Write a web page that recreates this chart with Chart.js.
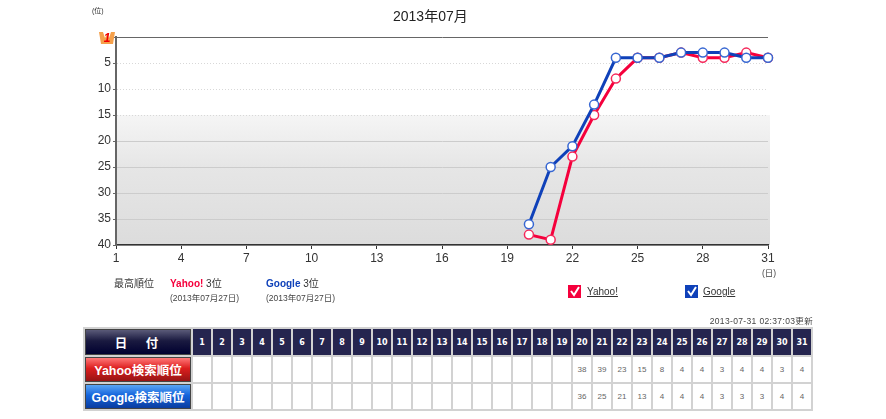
<!DOCTYPE html>
<html lang="ja">
<head>
    <meta charset="UTF-8">
    <title>2013年07月</title>
    <script src="https://cdn.jsdelivr.net/npm/chart.js"></script>
    <style>
        html, body {
            margin: 0;
            padding: 0;
            background: #ffffff;
            overflow: hidden;
        }

        body {
            width: 886px;
            height: 419px;
            position: relative;
            font-family: "Liberation Sans", "Noto Sans CJK JP", sans-serif;
            color: #333333;
        }

        canvas {
            position: absolute;
            left: 0;
            top: 0;
        }

        .label {
            position: absolute;
            white-space: nowrap;
            line-height: 1;
        }

        .small { font-size: 8.5px; color: #444444; }
        .yahoo { color: #f5003c; font-weight: bold; }
        .google { color: #0f41b9; font-weight: bold; }

        .check {
            position: absolute;
            width: 13px;
            height: 13px;
        }

        .legend-text {
            font-size: 10px;
            text-decoration: underline;
            color: #333333;
        }

        table {
            position: absolute;
            left: 83px;
            top: 327px;
            width: 730px;
            table-layout: fixed;
            border-collapse: separate;
            border-spacing: 2px;
            background: #d2d2d2;
        }

        td, th {
            padding: 0;
            text-align: center;
            overflow: hidden;
        }

        th.day {
            width: 18px;
            height: 26px;
            background: #25254f;
            color: #ffffff;
            font-size: 8px;
            font-family: "DejaVu Sans", sans-serif;
        }

        th.head {
            width: 106px;
            color: #ffffff;
            font-size: 12.5px;
            font-weight: bold;
            border: 1px solid #444444;
            box-sizing: border-box;
        }

        #dateHead { background: linear-gradient(#5a5a78, #1a1a40 45%, #000030); letter-spacing: 3px; }
        #yahooHead { background: linear-gradient(#f77, #dc1e1e 45%, #961414); }
        #googleHead { background: linear-gradient(#5aa5f5, #1464dc 45%, #0a3ca0); }

        td {
            height: 25px;
            background: #ffffff;
            color: #666666;
            font-size: 8px;
        }
    </style>
</head>
<body>
    <canvas id="rankChart" width="886" height="419"></canvas>

    <div class="label" style="left:92px;top:7px;font-size:7px;">(位)</div>
    <div class="label" style="left:393px;top:9px;font-size:14px;color:#222;">2013年07月</div>
    <svg style="position:absolute;left:99px;top:31px;" width="17" height="14">
        <polygon points="0,1 4,1 6,7 8,3 10,7 12,1 16,1 14,13 2,13" fill="#f5a04b"></polygon>
        <text x="8" y="11" text-anchor="middle" font-size="12" font-weight="bold" font-style="italic" fill="#f00000" font-family="Liberation Sans">1</text>
    </svg>
    <div class="label small" style="left:762px;top:269px;">(日)</div>

    <div class="label" style="left:114px;top:279px;font-size:10px;">最高順位</div>
    <div class="label" style="left:170px;top:279px;font-size:10px;"><span class="yahoo">Yahoo!</span> 3位</div>
    <div class="label small" style="left:170px;top:294px;">(2013年07月27日)</div>
    <div class="label" style="left:266px;top:279px;font-size:10px;"><span class="google">Google</span> 3位</div>
    <div class="label small" style="left:266px;top:294px;">(2013年07月27日)</div>

    <svg class="check" style="left:568px;top:285px;" viewBox="0 0 13 13">
        <rect width="13" height="13" fill="#f5003c"></rect>
        <path d="M3 6 L6 10 L11 2" stroke="#fff" stroke-width="2" fill="none"></path>
    </svg>
    <div class="label legend-text" style="left:587px;top:287px;">Yahoo!</div>
    <svg class="check" style="left:685px;top:285px;" viewBox="0 0 13 13">
        <rect width="13" height="13" fill="#0f41b9"></rect>
        <path d="M3 6 L6 10 L11 2" stroke="#fff" stroke-width="2" fill="none"></path>
    </svg>
    <div class="label legend-text" style="left:703px;top:287px;">Google</div>

    <div class="label small" style="right:73px;top:317px;letter-spacing:0.35px;">2013-07-31 02:37:03更新</div>

    <table>
        <tbody>
            <tr id="dayRow"><th class="head" id="dateHead">日　付</th></tr>
            <tr id="yahooRow"><th class="head" id="yahooHead">Yahoo検索順位</th></tr>
            <tr id="googleRow"><th class="head" id="googleHead">Google検索順位</th></tr>
        </tbody>
    </table>

    <script>
        const days = [
            1, 2, 3, 4, 5, 6, 7, 8, 9, 10, 11, 12, 13, 14, 15, 16,
            17, 18, 19, 20, 21, 22, 23, 24, 25, 26, 27, 28, 29, 30, 31,
        ];
        const yahooRanks = [
            null, null, null, null, null, null, null, null, null, null,
            null, null, null, null, null, null, null, null, null,
            38, 39, 23, 15, 8, 4, 4, 3, 4, 4, 3, 4,
        ];
        const googleRanks = [
            null, null, null, null, null, null, null, null, null, null,
            null, null, null, null, null, null, null, null, null,
            36, 25, 21, 13, 4, 4, 4, 3, 3, 3, 4, 4,
        ];

        const yahooColor = "#f5003c";
        const googleColor = "#0f41b9";

        // grey band behind the lower part of the plot
        const bandPlugin = {
            id: "band",
            beforeDraw(chart) {
                const { ctx, chartArea, scales } = chart;
                const top = scales.y.getPixelForValue(15);
                const gradient = ctx.createLinearGradient(0, top, 0, chartArea.bottom);
                gradient.addColorStop(0, "#f5f5f5");
                gradient.addColorStop(0.4, "#e6e6e6");
                gradient.addColorStop(1, "#dcdcdc");
                ctx.save();
                ctx.fillStyle = gradient;
                ctx.fillRect(chartArea.left, top, chartArea.width + 2, chartArea.bottom - top);
                ctx.restore();
            },
        };

        function toPoints(values) {
            return values.map((v, i) => ({ x: days[i], y: v }));
        }

        function makeSeries(label, values, color, pointColor) {
            return {
                label: label,
                data: toPoints(values),
                borderColor: color,
                backgroundColor: "#ffffff",
                borderWidth: 3,
                pointRadius: 4.5,
                pointBorderWidth: 1.5,
                pointBorderColor: pointColor,
                pointBackgroundColor: "#ffffff",
                tension: 0,
                spanGaps: false,
                clip: false,
            };
        }

        new Chart(document.getElementById("rankChart"), {
            type: "line",
            data: {
                // first dataset is drawn last, Google sits on top
                datasets: [
                    makeSeries("Google", googleRanks, googleColor, "#3767d2"),
                    makeSeries("Yahoo!", yahooRanks, yahooColor, "#f5285a"),
                ],
            },
            plugins: [bandPlugin],
            options: {
                responsive: false,
                animation: false,
                layout: {
                    padding: { left: 0, top: 37, right: 118, bottom: 0 },
                },
                plugins: {
                    legend: { display: false },
                    title: { display: false },
                    tooltip: { enabled: false },
                },
                scales: {
                    x: {
                        type: "linear",
                        min: 1,
                        max: 31,
                        afterFit(scale) {
                            scale.height = 174;
                        },
                        ticks: {
                            stepSize: 3,
                            color: "#333333",
                            maxRotation: 0,
                            padding: 2,
                            font: { size: 12, family: "Liberation Sans" },
                        },
                        grid: {
                            drawOnChartArea: false,
                            drawTicks: true,
                            tickLength: 4,
                            tickColor: "#333333",
                        },
                        border: { color: "#333333", width: 1.5 },
                    },
                    y: {
                        reverse: true,
                        min: 0,
                        max: 40,
                        afterFit(scale) {
                            scale.width = 116;
                        },
                        ticks: {
                            stepSize: 5,
                            color: "#333333",
                            padding: 2,
                            font: { size: 12, family: "Liberation Sans" },
                            callback: (v) => (v === 0 ? "" : v),
                        },
                        grid: {
                            color: (c) => {
                                if (c.tick.value === 0) return "#666666";
                                return c.tick.value <= 15 ? "#d8d8d8" : "#cccccc";
                            },
                            tickColor: "#666666",
                            tickLength: 3,
                        },
                        border: {
                            color: "#666666",
                            width: 2,
                            dash: (c) => (c.tick && c.tick.value > 0 && c.tick.value <= 15 ? [1, 2] : []),
                        },
                    },
                },
            },
        });

        // table under the chart
        const dayRow = document.getElementById("dayRow");
        const yahooRow = document.getElementById("yahooRow");
        const googleRow = document.getElementById("googleRow");

        days.forEach((day, i) => {
            const th = document.createElement("th");
            th.className = "day";
            th.textContent = day;
            dayRow.appendChild(th);

            const yahooCell = document.createElement("td");
            yahooCell.textContent = yahooRanks[i] === null ? "" : yahooRanks[i];
            yahooRow.appendChild(yahooCell);

            const googleCell = document.createElement("td");
            googleCell.textContent = googleRanks[i] === null ? "" : googleRanks[i];
            googleRow.appendChild(googleCell);
        });
    </script>
</body>
</html>
